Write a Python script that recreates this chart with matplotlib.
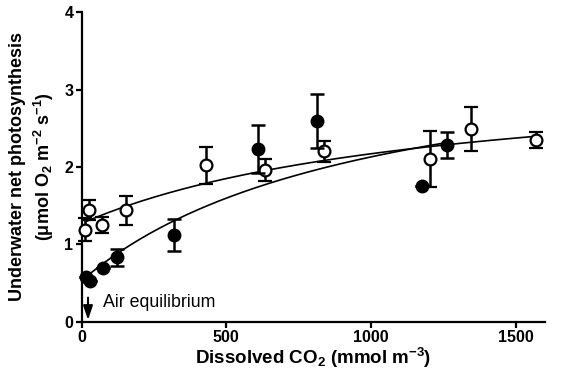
import numpy as np
import matplotlib
matplotlib.use('Agg')
from matplotlib import pyplot as plt

plt.rcParams['font.family'] = ['Liberation Sans', 'DejaVu Sans']
plt.rcParams['mathtext.default'] = 'regular'

# filled circles
filled_x = [14, 28, 74, 123, 320, 608, 812, 1176, 1262]
filled_y = [0.58, 0.53, 0.69, 0.83, 1.12, 2.23, 2.59, 1.75, 2.28]
filled_err = [0, 0, 0, 0.11, 0.21, 0.31, 0.35, 0, 0.17]

# open circles
open_x = [13, 25, 70, 154, 431, 634, 839, 1202, 1346, 1570]
open_y = [1.19, 1.44, 1.25, 1.44, 2.02, 1.96, 2.20, 2.10, 2.49, 2.35]
open_err = [0.15, 0.13, 0.10, 0.19, 0.24, 0.14, 0.14, 0.36, 0.28, 0.10]

# fitted hyperbolas y = y0 + vmax * x / (k + x), parameters
filled_fit = (0.53, 3.2, 1000)
open_fit = (1.27, 2.01, 1232)

air_eq = 22


def hyperbola(x, p):
    y0, vmax, k = p
    return y0 + vmax * x / (k + x)


fig = plt.figure(figsize=(5.71, 3.82), dpi=100)
ax = fig.add_axes([0.143, 0.158, 0.811, 0.81])

xs = np.linspace(min(filled_x), max(filled_x), 200)
ax.plot(xs, hyperbola(xs, filled_fit), color='k', lw=1.2, zorder=2)
xs = np.linspace(min(open_x), max(open_x), 200)
ax.plot(xs, hyperbola(xs, open_fit), color='k', lw=1.2, zorder=2)

ax.errorbar(open_x, open_y, yerr=open_err, fmt='o', ms=8.5, mfc='white',
            mec='k', mew=1.6, ecolor='k', elinewidth=1.8, capsize=5,
            capthick=1.8, zorder=3, clip_on=False)
ax.errorbar(filled_x, filled_y, yerr=filled_err, fmt='o', ms=9, mfc='k',
            mec='k', ecolor='k', elinewidth=1.8, capsize=5, capthick=1.8,
            zorder=4, clip_on=False)

ax.annotate('', xy=(air_eq, 0.02), xytext=(air_eq, 0.31),
            arrowprops=dict(arrowstyle='-|>,head_length=0.6,head_width=0.2',
                            color='k', lw=1.5, mutation_scale=14,
                            shrinkA=0, shrinkB=0))
ax.text(73, 0.19, 'Air equilibrium', fontsize=12.8, va='baseline',
        ha='left')

ax.set_xlim(0, 1600)
ax.set_ylim(0, 4)
ax.set_xticks([0, 500, 1000, 1500])
ax.set_yticks([0, 1, 2, 3, 4])
for s in ['top', 'right']:
    ax.spines[s].set_visible(False)
for s in ['left', 'bottom']:
    ax.spines[s].set_linewidth(1.6)
ax.tick_params(width=1.6, length=4, labelsize=11.5, pad=2)
for lab in ax.get_xticklabels() + ax.get_yticklabels():
    lab.set_fontweight('bold')

ax.set_xlabel(r'Dissolved CO$_2$ (mmol m$^{-3}$)', fontsize=13.5,
              fontweight='bold', labelpad=1)
ax.set_ylabel('Underwater net photosynthesis\n'
              r'($\mu$mol O$_2$ m$^{-2}$ s$^{-1}$)', fontsize=13,
              fontweight='bold', labelpad=6, linespacing=1.3)

plt.savefig('out.png', dpi=100)
